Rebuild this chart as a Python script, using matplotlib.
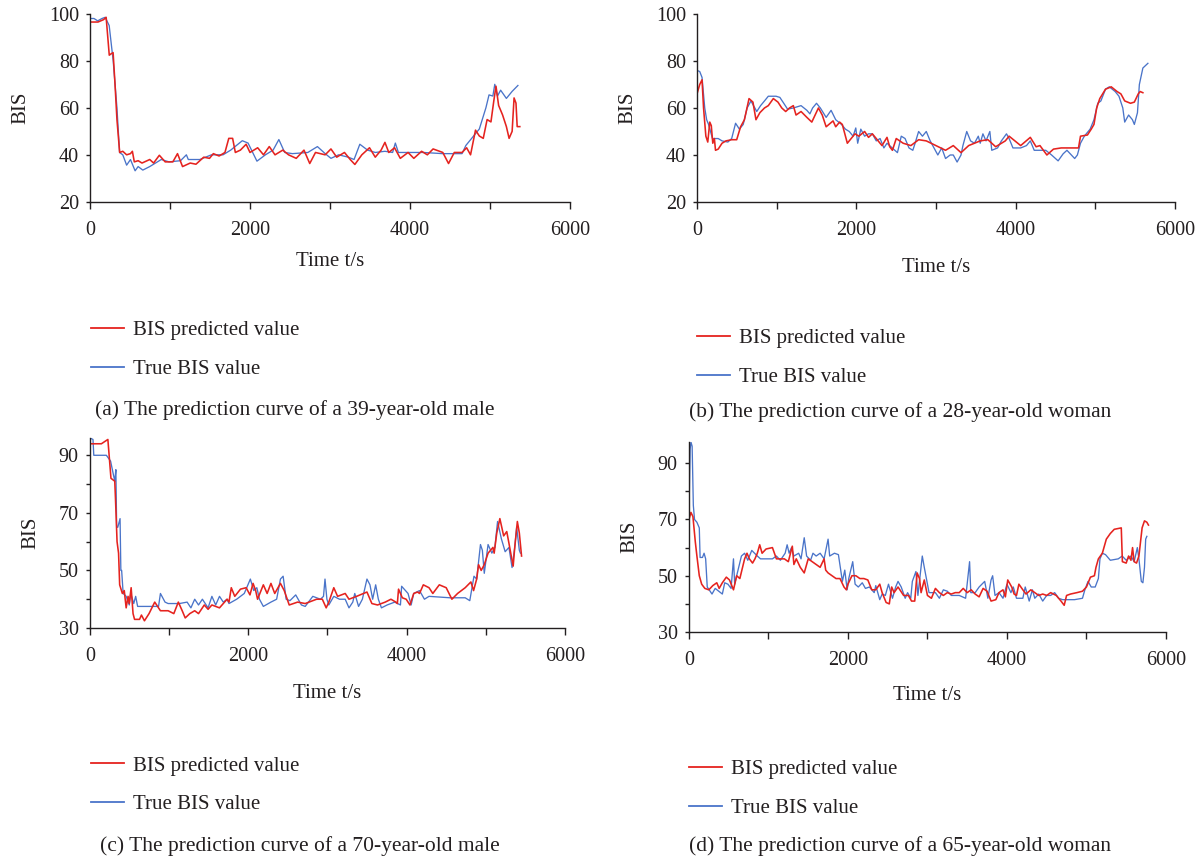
import matplotlib
matplotlib.use("Agg")
import matplotlib.pyplot as plt
from matplotlib.lines import Line2D

plt.rcParams["font.family"] = ["Liberation Serif", "DejaVu Serif"]

TEXT = "#231f20"
RED = "#e5231f"
BLUE = "#4a74c9"

# (time s, BIS)
a_true = [(0, 98), (50, 98), (96, 97), (150, 98), (190, 98.5), (240, 95), (290, 80), (337, 60),
          (370, 41), (410, 40), (458, 35.6), (506, 38), (564, 33.2), (602, 35), (660, 33.5),
          (747, 35), (843, 37), (891, 38), (988, 37), (1132, 37.5), (1205, 40), (1229, 38),
          (1277, 38), (1373, 38), (1518, 40), (1663, 40), (1759, 42), (1904, 46), (1976, 45),
          (2048, 40), (2087, 37.3), (2193, 40), (2289, 42), (2361, 46.5), (2434, 41), (2530, 40.5),
          (2723, 41), (2843, 43.5), (2940, 40.5), (3012, 38.5), (3108, 40), (3229, 39), (3301, 38),
          (3373, 44.5), (3470, 42), (3566, 41), (3687, 41.5), (3783, 41), (3817, 45), (3855, 41),
          (3976, 41), (4169, 41), (4410, 40.5), (4651, 40.5), (4699, 44), (4795, 48), (4867, 51),
          (4949, 60), (4988, 65.5), (5036, 65), (5060, 70), (5094, 65), (5133, 67.5), (5205, 64),
          (5277, 67), (5349, 69.5)]
a_pred = [(0, 96.5), (100, 96.5), (169, 97.5), (202, 98.5), (241, 82.4), (265, 83), (289, 83.5),
          (313, 70), (337, 55), (371, 41), (410, 41.5), (458, 40), (506, 40.5), (530, 41.5),
          (554, 37), (602, 37.5), (650, 36.5), (747, 38), (795, 36.5), (867, 39.8), (940, 37),
          (1036, 37), (1094, 40.5), (1157, 35), (1253, 36.5), (1325, 36), (1422, 39), (1494, 38.5),
          (1542, 40.5), (1614, 39.5), (1687, 41), (1735, 47), (1783, 47), (1817, 41), (1880, 42),
          (1952, 44.5), (2000, 41), (2096, 43), (2169, 40), (2241, 43.5), (2313, 40), (2410, 42),
          (2482, 40), (2578, 38.5), (2675, 42), (2747, 36.3), (2819, 41), (2940, 40), (3012, 42.5),
          (3084, 39), (3181, 41), (3253, 38), (3311, 35.9), (3398, 40), (3494, 43), (3566, 39),
          (3639, 42), (3687, 45.3), (3735, 41), (3807, 43), (3879, 38.5), (3976, 41), (4048, 38.5),
          (4145, 41.5), (4217, 40), (4289, 42.5), (4410, 41), (4482, 36.3), (4554, 41), (4651, 41),
          (4708, 43), (4757, 40), (4819, 50.5), (4867, 48), (4916, 47), (4964, 55), (5012, 54),
          (5048, 63), (5075, 69.2), (5108, 61), (5157, 57), (5205, 52), (5239, 47), (5277, 50),
          (5301, 64.2), (5325, 62), (5340, 52), (5373, 52)]

b_true = [(0, 76), (34, 75.5), (63, 73), (97, 60), (121, 55), (145, 53), (194, 47), (266, 47),
          (314, 46), (387, 45.5), (435, 47), (484, 53.5), (532, 51), (580, 53), (629, 60), (677, 63),
          (726, 60), (750, 58.5), (798, 61), (847, 63), (895, 65), (992, 65), (1040, 64.5),
          (1089, 62), (1137, 59.5), (1209, 60), (1306, 61), (1379, 59), (1417, 57.5), (1451, 60),
          (1500, 62), (1548, 60), (1621, 56), (1683, 59), (1741, 55), (1814, 53), (1863, 51),
          (1911, 50), (1959, 48), (1993, 51.5), (2017, 45), (2056, 51), (2104, 48), (2153, 49),
          (2201, 49), (2250, 46), (2298, 47), (2346, 43), (2385, 45), (2516, 41), (2564, 48),
          (2612, 47), (2661, 43), (2709, 42), (2733, 44.5), (2782, 50), (2830, 48), (2878, 50),
          (2927, 46), (2975, 43), (3023, 40), (3072, 43), (3120, 38.5), (3178, 40), (3217, 40),
          (3265, 37), (3314, 40), (3338, 44), (3386, 50), (3434, 46), (3483, 45), (3531, 48),
          (3555, 45), (3589, 49), (3628, 46), (3676, 50), (3700, 42), (3773, 43), (3821, 46),
          (3885, 49), (3918, 47), (3966, 43), (4063, 43), (4136, 44), (4184, 46), (4233, 42),
          (4378, 42), (4451, 40), (4533, 37.5), (4596, 40.5), (4644, 42), (4741, 38.5), (4775, 40),
          (4814, 45), (4862, 48), (4935, 51), (4983, 55), (5031, 62), (5070, 63), (5128, 68),
          (5176, 69), (5249, 67), (5297, 65), (5345, 60), (5369, 54), (5418, 57), (5466, 55),
          (5490, 53), (5529, 58), (5553, 70), (5597, 77), (5660, 79)]
b_pred = [(0, 66), (34, 70), (63, 72), (82, 60), (111, 48), (135, 45.5), (160, 54), (179, 52.5),
          (198, 45), (218, 47), (232, 42), (266, 42.5), (314, 45), (363, 46), (435, 46.5),
          (498, 46.5), (547, 52), (595, 55), (653, 64), (702, 62.5), (740, 55), (789, 58),
          (847, 60), (895, 61), (958, 64), (1016, 62.5), (1064, 60), (1113, 58.5), (1161, 60),
          (1209, 61), (1243, 57), (1306, 58.5), (1379, 56), (1441, 54), (1524, 60), (1572, 57),
          (1621, 52), (1708, 54.5), (1741, 52), (1790, 54), (1824, 53), (1887, 45), (1935, 47),
          (1983, 49), (2032, 48), (2104, 50), (2153, 47.5), (2201, 49), (2250, 47), (2322, 44),
          (2385, 47.5), (2419, 43.5), (2453, 42), (2501, 47), (2588, 45), (2685, 44), (2782, 46.5),
          (2878, 46), (2999, 44), (3120, 42), (3217, 44), (3314, 41), (3410, 44), (3555, 46),
          (3652, 46.5), (3749, 43.5), (3870, 46), (3918, 48), (4063, 44), (4184, 47.5),
          (4257, 43.5), (4305, 44), (4392, 40), (4475, 42.5), (4572, 43), (4789, 43), (4814, 48),
          (4901, 48.5), (4949, 51), (4983, 53), (5017, 60), (5056, 64), (5128, 68), (5200, 69),
          (5273, 67), (5321, 66), (5369, 63), (5442, 62), (5490, 62.5), (5539, 66), (5563, 67),
          (5597, 66.5)]

c_true = [(0, 96), (38, 95.5), (48, 90), (207, 90), (260, 88), (313, 81), (327, 85), (337, 65),
          (351, 65), (380, 68), (390, 50), (400, 50), (419, 42), (457, 41), (496, 38), (515, 42),
          (553, 38.5), (577, 41), (602, 37.5), (866, 37.5), (890, 42), (948, 39), (987, 38.5),
          (1131, 38.5), (1227, 39), (1275, 37), (1323, 40), (1371, 38), (1420, 40), (1492, 37),
          (1540, 41), (1588, 38), (1636, 41), (1684, 39), (1732, 40), (1756, 38.5), (1853, 40),
          (1949, 42), (2026, 47), (2069, 43), (2108, 44), (2141, 40), (2190, 37.5), (2286, 39),
          (2358, 40), (2406, 47), (2440, 48), (2478, 40), (2526, 39.5), (2599, 41.5), (2671, 38),
          (2719, 37.5), (2815, 41), (2911, 40), (2950, 41), (2969, 47), (2993, 40), (3017, 38),
          (3080, 41), (3152, 40), (3224, 40), (3272, 37), (3320, 39), (3345, 42), (3393, 37.5),
          (3441, 40), (3499, 47), (3537, 45), (3571, 40), (3609, 45), (3643, 40), (3682, 37),
          (3754, 38), (3850, 39), (3922, 38), (3937, 44.5), (4018, 42), (4057, 38), (4090, 42),
          (4163, 43), (4225, 40), (4283, 41), (4548, 40.5), (4740, 40.5), (4798, 39.5), (4851, 48),
          (4885, 47), (4933, 59), (4957, 57), (4981, 49), (5029, 59), (5077, 56), (5115, 58),
          (5149, 67), (5197, 61), (5245, 56.5), (5293, 58), (5332, 51), (5366, 58), (5390, 65),
          (5424, 57), (5438, 56)]
c_pred = [(0, 94), (144, 94), (226, 95.5), (265, 82), (313, 81), (322, 75), (342, 60), (361, 56),
          (375, 45), (409, 42), (433, 43), (457, 37), (481, 41), (496, 38.5), (520, 44), (544, 35),
          (563, 33), (626, 33), (650, 34.5), (688, 32.5), (746, 35), (818, 39), (890, 36),
          (987, 36), (1059, 35), (1116, 39), (1165, 36), (1203, 33.5), (1261, 35), (1323, 36),
          (1371, 35), (1444, 38), (1492, 36.5), (1540, 38), (1636, 37), (1732, 40), (1756, 39),
          (1785, 44), (1829, 41), (1901, 43.5), (1973, 44), (2021, 41.5), (2060, 45.5), (2093, 43),
          (2117, 40), (2190, 45), (2238, 42), (2286, 45.5), (2334, 42), (2406, 45.5), (2454, 43),
          (2517, 38), (2623, 39), (2719, 38.5), (2863, 40), (2935, 40), (2984, 37), (3017, 39),
          (3080, 44), (3128, 41), (3224, 42), (3272, 40), (3368, 41), (3499, 42.5), (3561, 38.5),
          (3633, 38), (3730, 39), (3802, 40), (3864, 39), (3883, 38.5), (3898, 43.5), (3946, 40.5),
          (3994, 40), (4042, 38), (4090, 42), (4138, 42.5), (4163, 42), (4211, 45), (4283, 44),
          (4331, 42), (4413, 45), (4500, 44), (4572, 40), (4644, 42), (4740, 44), (4812, 46),
          (4846, 43), (4885, 47), (4909, 52), (4942, 50), (4981, 52), (5029, 56), (5091, 58),
          (5106, 56), (5139, 63), (5178, 68), (5226, 62), (5265, 63.5), (5289, 60), (5322, 55),
          (5346, 51.5), (5366, 58), (5399, 67), (5424, 63), (5452, 55)]

d_true = [(0, 72), (15, 95), (25, 97.5), (40, 96), (55, 75), (70, 70), (100, 69), (130, 67),
          (140, 56.5), (170, 56.5), (190, 58), (210, 56), (230, 46), (290, 43.5), (330, 45.5),
          (420, 43.5), (450, 47.5), (490, 47), (530, 45.5), (560, 56), (575, 47), (600, 50),
          (660, 57), (700, 58), (740, 55.5), (790, 59), (860, 57), (900, 56), (1000, 56),
          (1050, 56), (1100, 57), (1150, 55.5), (1210, 58), (1235, 61), (1260, 58), (1290, 60),
          (1320, 57), (1380, 58), (1410, 56), (1450, 63.5), (1480, 57), (1530, 55.5), (1560, 58),
          (1600, 57), (1650, 58), (1700, 56), (1750, 63), (1770, 57), (1830, 58), (1880, 57.5),
          (1930, 48), (1960, 52), (1990, 45), (2010, 49), (2060, 55), (2090, 47), (2130, 46),
          (2180, 47.5), (2220, 45.5), (2270, 46), (2330, 44), (2350, 46.5), (2400, 41.5),
          (2430, 43.5), (2470, 43), (2510, 47), (2560, 42), (2600, 46), (2630, 48), (2670, 46),
          (2720, 42), (2750, 44), (2790, 42), (2810, 48), (2855, 51.5), (2880, 43), (2935, 57),
          (2960, 53), (3000, 47), (3020, 44), (3100, 44), (3150, 42), (3200, 45), (3250, 44.5),
          (3300, 43), (3400, 43), (3480, 42), (3530, 55), (3545, 44), (3600, 44), (3650, 46),
          (3720, 48), (3760, 42), (3800, 48.5), (3820, 50), (3850, 43), (3900, 44), (3950, 42),
          (4000, 47), (4050, 44), (4080, 46), (4120, 42), (4200, 42), (4230, 46), (4280, 41),
          (4320, 45), (4350, 42), (4400, 43.5), (4450, 41), (4500, 43), (4550, 43), (4600, 44),
          (4650, 42), (4700, 41.5), (4750, 41.5), (4850, 41.5), (4950, 42), (4980, 45),
          (5020, 48), (5060, 46), (5110, 46), (5150, 49), (5170, 56), (5200, 58), (5240, 57.5),
          (5300, 55.5), (5400, 56), (5450, 57), (5500, 55.5), (5560, 57), (5600, 55), (5640, 60),
          (5660, 56), (5690, 48), (5710, 47.5), (5730, 53), (5745, 63), (5760, 64)]
d_pred = [(0, 70), (25, 72.5), (50, 71), (80, 62), (100, 57), (130, 50), (160, 47), (200, 45.5),
          (250, 45), (300, 46.5), (350, 47.5), (380, 45.5), (420, 47.5), (470, 49.5), (510, 48.5),
          (560, 45), (600, 50), (640, 49), (700, 56), (730, 58), (760, 56), (800, 54.5), (830, 56),
          (860, 58), (890, 61), (920, 58), (970, 59.5), (1050, 60), (1100, 56), (1200, 56),
          (1250, 55), (1300, 60.5), (1320, 54), (1350, 56), (1400, 53), (1450, 51), (1500, 56),
          (1550, 55), (1600, 54), (1650, 53), (1700, 56), (1720, 52), (1750, 51), (1800, 50),
          (1850, 49), (1900, 49), (1950, 46), (1980, 45), (2000, 47), (2050, 50), (2100, 50),
          (2150, 49), (2200, 49), (2250, 48.5), (2300, 45), (2350, 45), (2400, 47), (2430, 44),
          (2480, 40.5), (2520, 40), (2550, 46), (2580, 44), (2630, 46), (2700, 43), (2760, 43),
          (2800, 41), (2840, 41), (2870, 51), (2900, 49), (2920, 44), (2960, 48.5), (3000, 43),
          (3050, 42), (3100, 45.5), (3150, 44), (3200, 43), (3250, 44), (3300, 43.5), (3350, 44),
          (3400, 44), (3450, 45.5), (3500, 44), (3550, 45), (3600, 43.5), (3650, 42.5),
          (3700, 45.5), (3750, 44.5), (3800, 41), (3860, 41.5), (3900, 44), (3950, 45),
          (3980, 42.5), (4010, 48.5), (4060, 46), (4090, 43.5), (4120, 43), (4150, 47), (4200, 45),
          (4240, 43.5), (4300, 45), (4350, 44), (4400, 43), (4450, 43.5), (4500, 43), (4550, 44),
          (4620, 43), (4680, 41), (4720, 39.5), (4750, 43), (4800, 43.5), (4880, 44), (4950, 44.5),
          (5000, 46), (5050, 49.5), (5100, 50), (5120, 53), (5150, 56), (5200, 58), (5250, 63),
          (5300, 65), (5350, 66.5), (5438, 67), (5452, 55), (5500, 54.5), (5530, 57), (5560, 55.5),
          (5580, 60), (5600, 55), (5630, 54.5), (5660, 57), (5700, 67), (5730, 69.5), (5760, 69),
          (5780, 68)]

captions = [
    "(a) The prediction curve of a 39-year-old male",
    "(b) The prediction curve of a 28-year-old woman",
    "(c) The prediction curve of a 70-year-old male",
    "(d) The prediction curve of a 65-year-old woman",
]

# panel geometry in figure fractions: axes rect, y limits/ticks, x label pad,
# legend anchor, caption anchor
panels = [
    dict(rect=[0.0748, 0.7645, 0.3990, 0.2194], ylim=(20, 100), yticks=[20, 40, 60, 80, 100],
         ylabels=[20, 40, 60, 80, 100], true=a_true, pred=a_pred, xpad=8.6,
         leg=(0.0756, 0.626), cap=(0.079, 0.5217)),
    dict(rect=[0.5794, 0.7643, 0.3973, 0.2194], ylim=(20, 100), yticks=[20, 40, 60, 80, 100],
         ylabels=[20, 40, 60, 80, 100], true=b_true, pred=b_pred, xpad=12.4,
         leg=(0.5794, 0.6167), cap=(0.573, 0.5187)),
    dict(rect=[0.0748, 0.2672, 0.3948, 0.2217], ylim=(30, 96), yticks=list(range(30, 100, 10)),
         ylabels=[30, 50, 70, 90], true=c_true, pred=c_pred, xpad=12.5,
         leg=(0.0756, 0.1178), cap=(0.083, 0.013)),
    dict(rect=[0.5727, 0.2625, 0.3965, 0.2217], ylim=(30, 97.5), yticks=list(range(30, 100, 10)),
         ylabels=[30, 50, 70, 90], true=d_true, pred=d_pred, xpad=11.0,
         leg=(0.5727, 0.1137), cap=(0.573, 0.013)),
]

fig = plt.figure(figsize=(12.03, 8.57), dpi=100)

for p, cap in zip(panels, captions):
    ax = fig.add_axes(p["rect"])
    pt, pv = zip(*p["pred"])
    tt, tv = zip(*p["true"])
    ax.plot(tt, tv, color=BLUE, lw=0.95)
    ax.plot(pt, pv, color=RED, lw=1.15)

    ax.set_xlim(0, 6000)
    ax.set_ylim(*p["ylim"])
    ax.set_xticks(range(0, 6001, 1000))
    ax.set_xticklabels([str(t) if t % 2000 == 0 else "" for t in range(0, 6001, 1000)])
    ax.set_yticks(p["yticks"])
    ax.set_yticklabels([str(v) if v in p["ylabels"] else "" for v in p["yticks"]])

    for side in ("top", "right"):
        ax.spines[side].set_visible(False)
    for side in ("left", "bottom"):
        ax.spines[side].set_color(TEXT)
        ax.spines[side].set_linewidth(1.0)
    ax.tick_params(direction="out", width=1.0, color=TEXT, labelsize=14.5, labelcolor=TEXT)
    ax.tick_params(axis="x", length=5, pad=9)
    ax.tick_params(axis="y", length=3, pad=5)
    ax.set_xlabel("Time t/s", fontsize=15, color=TEXT, labelpad=p["xpad"])
    ax.set_ylabel("BIS", fontsize=15, color=TEXT, labelpad=13)

    handles = [Line2D([], [], color=RED, lw=1.3), Line2D([], [], color=BLUE, lw=1.3)]
    fig.legend(handles, ["BIS predicted value", "True BIS value"],
               loc="upper left", bbox_to_anchor=p["leg"], frameon=False,
               fontsize=15, labelcolor=TEXT, handlelength=1.6, handletextpad=0.4,
               labelspacing=0.92, borderpad=0, borderaxespad=0)
    fig.text(p["cap"][0], p["cap"][1], cap, fontsize=15.5, color=TEXT, ha="left", va="center")

fig.savefig("out.png", dpi=100)
